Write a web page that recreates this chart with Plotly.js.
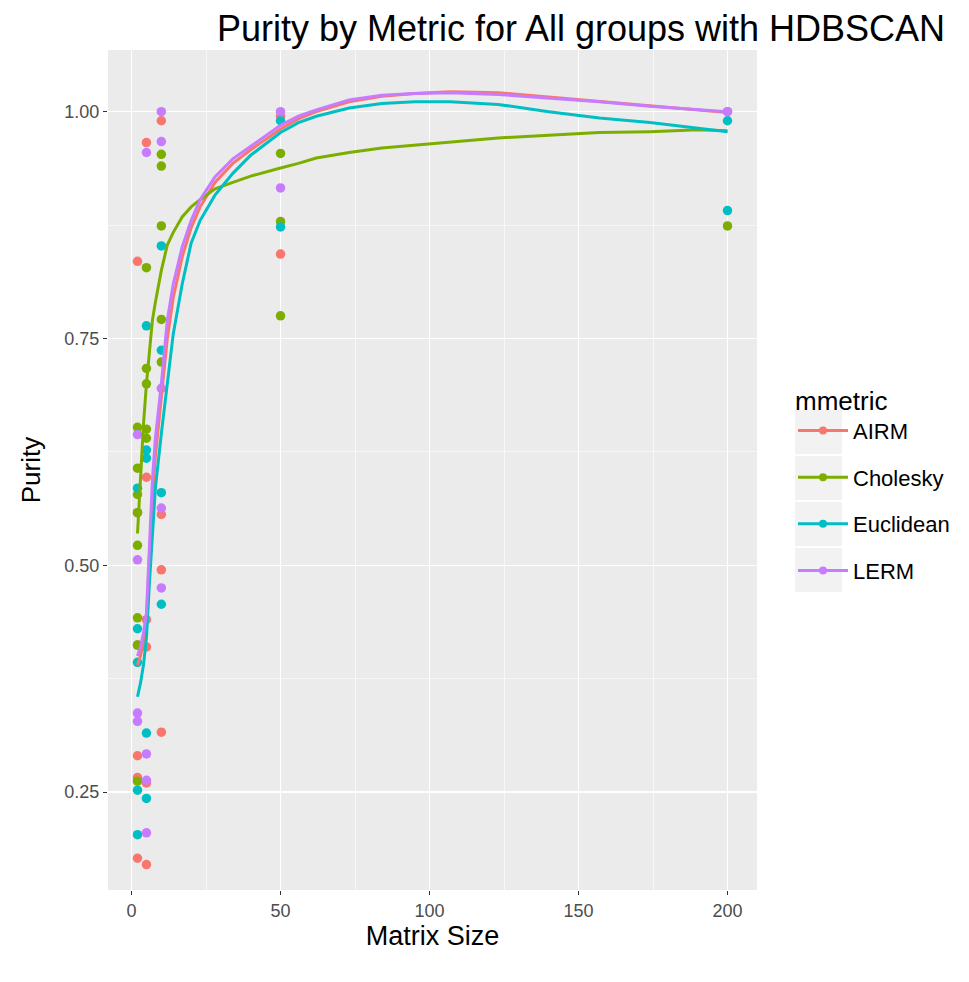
<!DOCTYPE html>
<html>
<head>
<meta charset="utf-8">
<script src="https://cdn.plot.ly/plotly-3.0.1.min.js"></script>
<style>html,body{margin:0;padding:0;background:#fff;}</style>
</head>
<body>
<div id="chart" style="width:969px;height:982px;"></div>
<script>
// ---- data ----
const metrics = ["AIRM", "Cholesky", "Euclidean", "LERM"];
const colors = ["#F8766D", "#7CAE00", "#00BFC4", "#C77CFF"];

// observed points (Matrix Size, Purity)
const airmX = [2,2,2,2,2,2, 5,5,5,5,5,5, 10,10,10,10, 50,50, 200];
const airmY = [0.835,0.558,0.412,0.290,0.266,0.177, 0.966,0.597,0.440,0.410,0.260,0.170, 0.990,0.556,0.495,0.316, 0.995,0.843, 1.000];
const cholX = [2,2,2,2,2,2,2,2, 5,5,5,5,5, 10,10,10,10,10, 50,50,50, 200];
const cholY = [0.652,0.607,0.578,0.558,0.522,0.442,0.412,0.262, 0.828,0.717,0.700,0.650,0.640, 0.953,0.940,0.874,0.771,0.724, 0.954,0.879,0.775, 0.874];
const euclX = [2,2,2,2,2, 5,5,5,5,5, 10,10,10,10, 50,50, 200,200];
const euclY = [0.585,0.430,0.393,0.252,0.203, 0.764,0.627,0.618,0.315,0.243, 0.852,0.737,0.580,0.457, 0.990,0.873, 0.990,0.891];
const lermX = [2,2,2,2, 5,5,5,5, 10,10,10,10,10, 50,50, 200];
const lermY = [0.644,0.506,0.337,0.328, 0.955,0.292,0.263,0.205, 1.000,0.967,0.695,0.563,0.475, 1.000,0.916, 1.000];

// smoothed (loess) curves
const fitX = [2,3,4,5,6,7,8,10,12,14,17,20,23,28,34,40,50,56,62,73,84,95,107,123,140,157,174,190,200];
const airmFit = [0.390,0.400,0.415,0.440,0.510,0.575,0.620,0.685,0.750,0.795,0.840,0.872,0.895,0.922,0.943,0.958,0.981,0.992,1.000,1.011,1.017,1.020,1.022,1.021,1.016,1.011,1.006,1.002,0.999];
const cholFit = [0.535,0.600,0.655,0.700,0.740,0.770,0.790,0.825,0.853,0.867,0.884,0.895,0.903,0.915,0.922,0.929,0.938,0.943,0.949,0.955,0.960,0.963,0.967,0.971,0.974,0.977,0.978,0.980,0.979];
const euclFit = [0.355,0.370,0.390,0.420,0.480,0.540,0.585,0.645,0.700,0.755,0.810,0.855,0.880,0.908,0.932,0.952,0.977,0.988,0.995,1.004,1.009,1.011,1.011,1.008,1.000,0.993,0.988,0.982,0.978];
const lermFit = [0.400,0.410,0.425,0.447,0.520,0.594,0.640,0.700,0.770,0.810,0.851,0.880,0.903,0.928,0.948,0.962,0.985,0.995,1.002,1.013,1.018,1.020,1.021,1.019,1.015,1.011,1.006,1.002,1.000];

const xTicks = [0, 50, 100, 150, 200];
const yTicks = [0.25, 0.50, 0.75, 1.00];
const yTickText = ["0.25", "0.50", "0.75", "1.00"];
// -----------------------------------

const ptsX = [airmX, cholX, euclX, lermX];
const ptsY = [airmY, cholY, euclY, lermY];
const fits = [airmFit, cholFit, euclFit, lermFit];

const PL = 108, PR = 757, PT = 50, PB = 890, W = 969, H = 982;

const traces = [];
metrics.forEach((m, i) => {
  traces.push({
    type: "scatter", mode: "markers", x: ptsX[i], y: ptsY[i],
    marker: {color: colors[i], size: 9.5, line: {width: 0}},
    showlegend: false, name: m
  });
});
metrics.forEach((m, i) => {
  traces.push({
    type: "scatter", mode: "lines", x: fitX, y: fits[i],
    line: {color: colors[i], width: 3},
    showlegend: false, name: m
  });
});
// legend entries (line + point, like ggplot key)
metrics.forEach((m, i) => {
  traces.push({
    type: "scatter", mode: "lines+markers", x: [null], y: [null],
    line: {color: colors[i], width: 3},
    marker: {color: colors[i], size: 8},
    name: m, legendgroup: m, showlegend: true
  });
});

// grey key backgrounds (ggplot legend.key)
const keyCenters = [432, 478, 524, 570];
const toPx = v => (v - PL) / (PR - PL);
const toPy = v => (PB - v) / (PB - PT);
const shapes = keyCenters.map(c => ({
  type: "rect", xref: "paper", yref: "paper", layer: "below",
  x0: toPx(795), x1: toPx(842), y0: toPy(c + 22), y1: toPy(c - 22),
  fillcolor: "#F2F2F2", line: {width: 0}
}));

const layout = {
  width: W, height: H,
  margin: {l: PL, r: W - PR, t: PT, b: H - PB},
  paper_bgcolor: "#FFFFFF",
  plot_bgcolor: "#EBEBEB",
  font: {family: "Liberation Sans, Arial, sans-serif", color: "#000"},
  title: {
    text: "Purity by Metric for All groups with HDBSCAN",
    font: {size: 36, color: "#000"},
    x: 581 / W, xanchor: "center", xref: "container",
    y: 1 - 28 / H, yanchor: "middle", yref: "container"
  },
  xaxis: {
    range: [-7.9, 209.9],
    tickmode: "array", tickvals: xTicks,
    showgrid: true, gridcolor: "#FFFFFF", gridwidth: 1.3,
    minor: {tickmode: "array", tickvals: [25, 75, 125, 175], showgrid: true, gridcolor: "#FFFFFF", gridwidth: 0.6},
    zeroline: false, showline: false,
    ticks: "outside", ticklen: 4, tickcolor: "#333333", tickwidth: 1,
    tickfont: {size: 18, color: "#4D4D4D"},
    title: {text: "Matrix Size", font: {size: 27, color: "#000"}, standoff: 6}
  },
  yaxis: {
    range: [0.142, 1.068],
    tickmode: "array", tickvals: yTicks, ticktext: yTickText,
    showgrid: true, gridcolor: "#FFFFFF", gridwidth: 1.3,
    minor: {tickmode: "array", tickvals: [0.375, 0.625, 0.875], showgrid: true, gridcolor: "#FFFFFF", gridwidth: 0.6},
    zeroline: false, showline: false,
    ticks: "outside", ticklen: 4, tickcolor: "#333333", tickwidth: 1,
    tickfont: {size: 18, color: "#4D4D4D"},
    title: {text: "Purity", font: {size: 26, color: "#000"}, standoff: 16}
  },
  legend: {
    x: toPx(793), xanchor: "left", y: toPy(376), yanchor: "top",
    bgcolor: "rgba(0,0,0,0)",
    font: {size: 22, color: "#000"},
    title: {text: "mmetric", font: {size: 26, color: "#000"}},
    traceorder: "grouped", tracegroupgap: 15,
    itemwidth: 50
  },
  shapes: shapes,
  showlegend: true
};

Plotly.newPlot("chart", traces, layout, {displayModeBar: false, staticPlot: true});
</script>
</body>
</html>
